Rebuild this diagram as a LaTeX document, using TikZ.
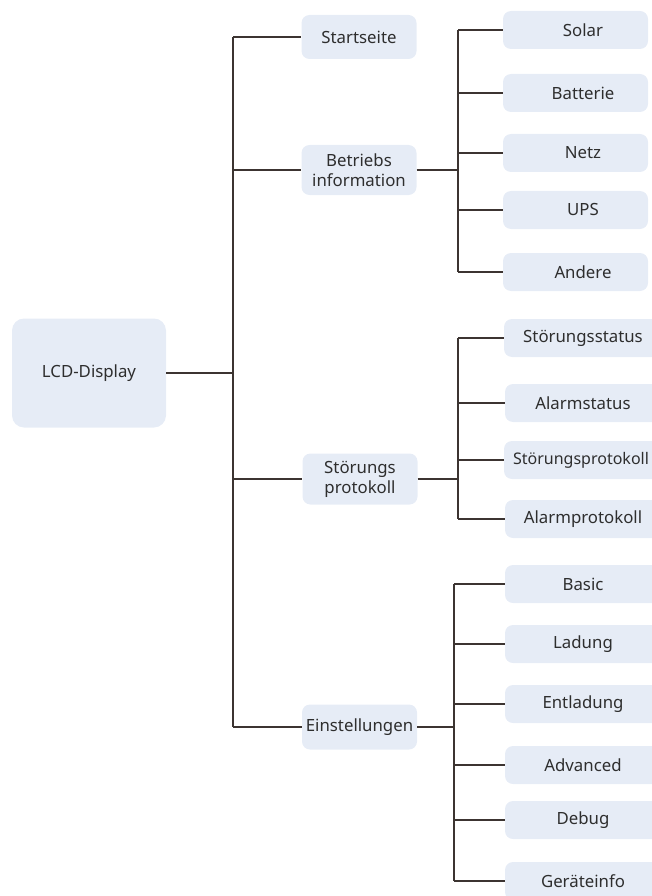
\documentclass[tikz,border=0pt]{standalone}
\usepackage{fontspec}
\setmainfont{Noto Sans}
\definecolor{boxfill}{HTML}{E6ECF6}
\definecolor{txtc}{HTML}{2E2E2E}
\definecolor{linec}{HTML}{3C3431}
\begin{document}
\begin{tikzpicture}[x=1pt,y=-1pt,
  box/.style={fill=boxfill, rounded corners=8pt, inner sep=0pt, text=txtc,
    font=\fontsize{16.8}{20}\selectfont, align=center},
  rootbox/.style={box, rounded corners=12pt, minimum width=154pt, minimum height=109pt},
  midbox/.style={box, minimum width=115pt},
  leafbox/.style={fill=boxfill, rounded corners=8pt, inner sep=0pt, minimum height=38pt},
  lbl/.style={inner sep=0pt, text=txtc, font=\fontsize{16.8}{20}\selectfont},
  link/.style={draw=linec, line width=1.6pt}]
\useasboundingbox (0,0) rectangle (652,896);

% root
\node[rootbox] (lcd) at (89,373) {LCD-Display};

% first level
\node[midbox, minimum height=44pt] (start) at (359,37) {Startseite};
\node[midbox, minimum height=50pt] (betr) at (359,170) {Betriebs\\information};
\node[midbox, minimum height=51pt] (stoer) at (360,479) {Störungs\\protokoll};
\node[midbox, minimum height=45pt] (einst) at (359.5,727) {Einstellungen};

% leaves: Betriebsinformation
\node[leafbox, minimum width=145pt] (solar) at (575.5,30) {};
\node[lbl] (solar-t) at (583,30) {Solar};
\node[leafbox, minimum width=145pt] (batt) at (575.5,93) {};
\node[lbl] (batt-t) at (583,93) {Batterie};
\node[leafbox, minimum width=145pt] (netz) at (575.5,153) {};
\node[lbl] (netz-t) at (583,153) {Netz};
\node[leafbox, minimum width=145pt] (ups) at (575.5,210) {};
\node[lbl] (ups-t) at (583,210) {UPS};
\node[leafbox, minimum width=145pt] (andere) at (575.5,272) {};
\node[lbl] (andere-t) at (583,272) {Andere};

% leaves: Störungsprotokoll
\node[leafbox, minimum width=156pt] (sstat) at (582,338) {};
\node[lbl] (sstat-t) at (583,338) {Störungsstatus};
\node[leafbox, minimum width=156pt] (astat) at (583,403) {};
\node[lbl] (astat-t) at (583,403) {Alarmstatus};
\node[leafbox, minimum width=156pt] (sprot) at (582,460) {};
\node[lbl, font=\fontsize{16}{20}\selectfont] (sprot-t) at (581,460) {Störungsprotokoll};
\node[leafbox, minimum width=156pt] (aprot) at (583,519) {};
\node[lbl] (aprot-t) at (583,519) {Alarmprotokoll};

% leaves: Einstellungen
\node[leafbox, minimum width=155pt] (basic) at (582.5,584) {};
\node[lbl] (basic-t) at (583,584) {Basic};
\node[leafbox, minimum width=155pt] (ladung) at (582.5,644) {};
\node[lbl] (ladung-t) at (583,644) {Ladung};
\node[leafbox, minimum width=155pt] (entl) at (582.5,704) {};
\node[lbl] (entl-t) at (583,704) {Entladung};
\node[leafbox, minimum width=155pt] (adv) at (582.5,765) {};
\node[lbl] (adv-t) at (583,765) {Advanced};
\node[leafbox, minimum width=155pt] (debug) at (582.5,820) {};
\node[lbl] (debug-t) at (583,820) {Debug};
\node[leafbox, minimum width=155pt] (geraet) at (582.5,881) {};
\node[lbl] (geraet-t) at (583,881) {Geräteinfo};

% trunk columns
\coordinate (t0) at (233,0);
\coordinate (t1) at (458,0);
\coordinate (t2) at (458,0);
\coordinate (t3) at (454,0);

% root to first level
\draw[link] (lcd.east) -- (lcd.east -| t0);
\draw[link] (start.west -| t0) -- (einst.west -| t0);
\foreach \n in {start,betr,stoer,einst}
  \draw[link] (\n.west -| t0) -- (\n.west);

% Betriebsinformation branch
\draw[link] (betr.east) -- (betr.east -| t1);
\draw[link] (solar.west -| t1) -- (andere.west -| t1);
\foreach \n in {solar,batt,netz,ups,andere}
  \draw[link] (\n.west -| t1) -- (\n.west);

% Störungsprotokoll branch
\draw[link] (stoer.east) -- (stoer.east -| t2);
\draw[link] (sstat.west -| t2) -- (aprot.west -| t2);
\foreach \n in {sstat,astat,sprot,aprot}
  \draw[link] (\n.west -| t2) -- (\n.west);

% Einstellungen branch
\draw[link] (einst.east) -- (einst.east -| t3);
\draw[link] (basic.west -| t3) -- (geraet.west -| t3);
\foreach \n in {basic,ladung,entl,adv,debug,geraet}
  \draw[link] (\n.west -| t3) -- (\n.west);
\end{tikzpicture}
\end{document}
